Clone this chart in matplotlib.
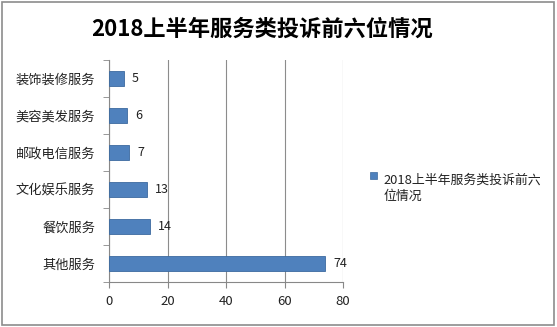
import matplotlib.pyplot as plt
from matplotlib.patches import Rectangle

plt.rcParams['font.family'] = ['Noto Sans CJK SC', 'DejaVu Sans']

# top-six complaint categories, listed top to bottom
categories = ['装饰装修服务', '美容美发服务', '邮政电信服务', '文化娱乐服务', '餐饮服务', '其他服务']
counts = [5, 6, 7, 13, 14, 74]
xticks = [0, 20, 40, 60, 80]
title = '2018上半年服务类投诉前六位情况'

fig = plt.figure(figsize=(5.57, 3.27), dpi=100)
ax = fig.add_axes([0.1957, 0.1376, 0.4201, 0.6789])

pos = list(range(len(categories)))[::-1]
ax.barh(pos, counts, height=0.4, color='#4F81BD', edgecolor='#3C6A9F', linewidth=0.6, zorder=3)
for p, v in zip(pos, counts):
    ax.annotate(str(v), (v, p), xytext=(6, 0), textcoords='offset points',
                va='center', ha='left', fontsize=9, color='#222222')

ax.set_xlim(0, 80)
ax.set_ylim(-0.5, len(categories) - 0.5)
ax.set_xticks(xticks)
ax.set_xticklabels([str(t) for t in xticks], fontsize=9.5, color='#222222')
ax.set_yticks(pos)
ax.set_yticklabels(categories, fontsize=9.5, color='#222222')
ax.tick_params(axis='y', length=0, pad=10)
ax.tick_params(axis='x', length=4, color='#888888', pad=5)
# small ticks between categories on the left axis
ax.set_yticks([p - 0.5 for p in range(len(categories) + 1)], minor=True)
ax.tick_params(axis='y', which='minor', length=4, color='#888888')

ax.grid(axis='x', color='#8c8c8c', linewidth=0.8, zorder=0)
for s in ['top', 'right']:
    ax.spines[s].set_visible(False)
for s in ['left', 'bottom']:
    ax.spines[s].set_color('#888888')

fig.text(0.47, 0.91, title, ha='center', va='center', fontsize=16, fontweight='bold')

# legend drawn by hand so the label wraps onto two lines
fig.patches.append(Rectangle((0.664, 0.452), 0.0135, 0.023, transform=fig.transFigure,
                             facecolor='#4F81BD', edgecolor='#3C6A9F', linewidth=0.5))
fig.text(0.688, 0.425, '2018上半年服务类投诉前六\n位情况', ha='left', va='center',
         fontsize=9.3, linespacing=1.35, color='#222222')

# outer frame
fig.patches.append(Rectangle((0.004, 0.006), 0.991, 0.988, transform=fig.transFigure,
                             fill=False, edgecolor='#8c8c8c', linewidth=1.2))

fig.savefig('out.png', dpi=100)
